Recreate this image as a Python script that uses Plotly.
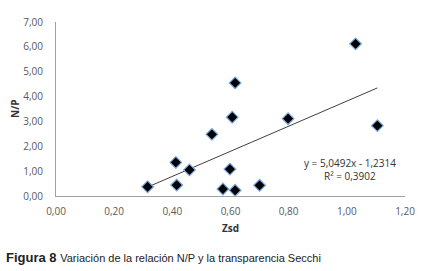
import plotly.graph_objects as go

zsd = [0.315, 0.412, 0.415, 0.459, 0.536, 0.574, 0.598, 0.616, 0.700, 0.616, 0.606, 0.798, 1.030, 1.105]
np_ratio = [0.37, 1.35, 0.44, 1.05, 2.48, 0.28, 1.08, 0.23, 0.43, 4.55, 3.17, 3.11, 6.12, 2.83]
slope = 5.0492
intercept = -1.2314
r2 = 0.3902
x_ticks = [0, 0.2, 0.4, 0.6, 0.8, 1.0, 1.2]
y_ticks = [0, 1, 2, 3, 4, 5, 6, 7]

W, H = 422, 271
L, R, T, B = 56, 17, 22, 75
pw, ph = W - L - R, H - T - B

def px2paper(px, py):
    return (px - L) / pw, 1 - (py - T) / ph

xmin, xmax = min(zsd), max(zsd)
trend_x = [xmin, xmax]
trend_y = [slope * v + intercept for v in trend_x]

fig = go.Figure()
fig.add_trace(go.Scatter(x=trend_x, y=trend_y, mode="lines",
                         line=dict(color="#404040", width=1), hoverinfo="skip"))
fig.add_trace(go.Scatter(x=zsd, y=np_ratio, mode="markers",
                         marker=dict(symbol="diamond", size=9, color="black",
                                     line=dict(color="#7aa8e0", width=1.2))))

def fmt(v):
    return f"{v:.4f}".replace(".", ",")

def note(px, py, text, **kw):
    x, y = px2paper(px, py)
    fig.add_annotation(x=x, y=y, xref="paper", yref="paper", showarrow=False,
                       xanchor=kw.pop("xanchor", "center"), yanchor="middle",
                       text=text, **kw)

eqfont = dict(family="Open Sans, sans-serif", size=10, color="#333")
note(350, 163, f"y = {fmt(slope)}x - {fmt(abs(intercept))}", font=eqfont)
note(350, 176, f"R² = {fmt(r2)}", font=eqfont)
note(230, 228, "<b>Zsd</b>", font=eqfont)
note(15, 109, "<b>N/P</b>", font=eqfont, textangle=-90)
note(4, 257, "<b>Figura 8</b> <span style='font-size:11px'>Variación de la relación N/P y la transparencia Secchi</span>",
     xanchor="left", font=dict(family="Liberation Sans, Arial, sans-serif", size=13, color="#222"))

fig.update_layout(
    width=W, height=H, margin=dict(l=L, r=R, t=T, b=B, autoexpand=False),
    paper_bgcolor="white", plot_bgcolor="white", showlegend=False,
    separators=",.",
    font=dict(family="Open Sans, sans-serif", size=10, color="#595959"),
    xaxis=dict(range=[0, 1.2], tickvals=x_ticks, tickformat=".2f", showgrid=False,
               zeroline=False, showline=True, linecolor="#a0a0a0", linewidth=1,
               ticks="", ticklabelstandoff=6, automargin=False),
    yaxis=dict(range=[0, 7], tickvals=y_ticks, tickformat=".2f", showgrid=False,
               zeroline=False, showline=True, linecolor="#a0a0a0", linewidth=1,
               ticks="", ticklabelstandoff=10, automargin=False),
)

fig.write_html("out.html", config={"displayModeBar": False},
               post_script="document.body.style.margin='0';document.body.style.overflow='hidden';")
